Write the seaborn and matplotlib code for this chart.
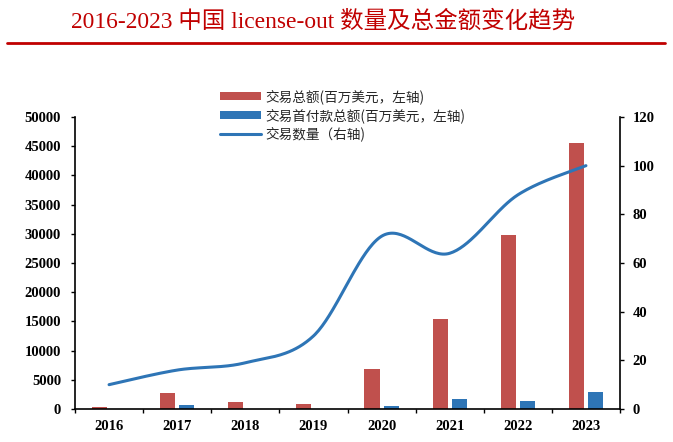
import numpy as np
import pandas as pd
import matplotlib
matplotlib.use("Agg")
import matplotlib.pyplot as plt
import seaborn as sns
from matplotlib.lines import Line2D
from matplotlib.patches import Patch
from matplotlib.font_manager import FontProperties

# ---- data ----
years = ["2016", "2017", "2018", "2019", "2020", "2021", "2022", "2023"]
total_amount = [300, 2740, 1200, 850, 6850, 15400, 29800, 45600]     # 百万美元
upfront_amount = [30, 630, 60, 40, 500, 1650, 1370, 2850]            # 百万美元
deal_count = [10, 16, 19, 30, 71, 64, 88, 100]                       # 右轴

label_total = "交易总额(百万美元，左轴)"
label_upfront = "交易首付款总额(百万美元，左轴)"
label_count = "交易数量（右轴)"
title = "2016-2023 中国 license-out 数量及总金额变化趋势"

red = "#C0504D"
blue = "#2E75B6"
title_red = "#C00000"

sns.set_theme(style="white")
plt.rcParams["font.family"] = ["Liberation Serif", "Noto Sans CJK SC", "DejaVu Sans"]

df = pd.DataFrame({
    "year": years * 2,
    "value": total_amount + upfront_amount,
    "series": [label_total] * len(years) + [label_upfront] * len(years),
})

fig = plt.figure(figsize=(6.73, 4.42), dpi=100)
ax = fig.add_axes([75 / 673, 1 - 409 / 442, 545 / 673, 292 / 442])

sns.barplot(data=df, x="year", y="value", hue="series", order=years,
            hue_order=[label_total, label_upfront], palette=[red, blue],
            width=0.56, gap=0.21, dodge=True, ax=ax, legend=False,
            saturation=1, edgecolor="none")

ax.set_xlim(-0.5, len(years) - 0.5)
ax.set_ylim(0, 50000)
ax.set_yticks(np.arange(0, 50001, 5000))
ax.set_xlabel("")
ax.set_ylabel("")

# right axis: smooth line (Catmull-Rom through the data points)
ax2 = ax.twinx()
x = np.arange(len(deal_count), dtype=float)
y = np.array(deal_count, dtype=float)
px = np.concatenate([[x[0]], x, [x[-1]]])
py = np.concatenate([[y[0]], y, [y[-1]]])
xs, ys = [], []
t = np.linspace(0, 1, 40)
for i in range(1, len(px) - 2):
    p0, p1, p2, p3 = (np.array([px[j], py[j]]) for j in (i - 1, i, i + 1, i + 2))
    c1 = p1 + (p2 - p0) / 6
    c2 = p2 - (p3 - p1) / 6
    b = ((1 - t) ** 3)[:, None] * p1 + (3 * (1 - t) ** 2 * t)[:, None] * c1 + \
        (3 * (1 - t) * t ** 2)[:, None] * c2 + (t ** 3)[:, None] * p2
    xs.extend(b[:, 0]); ys.extend(b[:, 1])
sns.lineplot(x=xs, y=ys, ax=ax2, color=blue, linewidth=2.2, sort=False,
             estimator=None)
ax2.set_ylim(0, 120)
ax2.set_yticks(np.arange(0, 121, 20))
ax2.set_xlim(-0.5, len(years) - 0.5)

for a in (ax, ax2):
    for s in a.spines.values():
        s.set_visible(False)
ax.spines["left"].set_visible(True)
ax.spines["bottom"].set_visible(True)
ax2.spines["right"].set_visible(True)
for s in (ax.spines["left"], ax.spines["bottom"], ax2.spines["right"]):
    s.set_color("black")
    s.set_linewidth(1.2)

ax.tick_params(axis="y", direction="out", length=3, width=1, color="black", left=True, pad=7)
ax2.tick_params(axis="y", direction="out", length=3, width=1, color="black", right=True, pad=6)
ax.set_xticks(np.arange(len(years)))
ax.set_xticklabels(years)
ax.tick_params(axis="x", which="major", length=0, pad=8)
ax.set_xticks(np.arange(-0.5, len(years), 1.0), minor=True)
ax.tick_params(axis="x", which="minor", direction="out", length=3, width=1, color="black", bottom=True)
for lab in ax.get_xticklabels() + ax.get_yticklabels() + ax2.get_yticklabels():
    lab.set_fontfamily("Liberation Serif")
    lab.set_fontweight("bold")
    lab.set_fontsize(10.5)
    lab.set_color("black")
ax.grid(False); ax2.grid(False)
ax.set_zorder(1); ax2.set_zorder(2); ax2.patch.set_visible(False)

# legend
handles = [Patch(facecolor=red, edgecolor="none", label=label_total),
           Patch(facecolor=blue, edgecolor="none", label=label_upfront),
           Line2D([0], [0], color=blue, lw=2.2, label=label_count)]
fig.legend(handles=handles, loc="upper left", bbox_to_anchor=(220 / 673, 1 - 89 / 442),
           frameon=False, prop=FontProperties(family=["Noto Sans CJK SC"], size=9.8),
           handlelength=3.0, handleheight=0.45, labelspacing=0.3, handletextpad=0.35,
           borderaxespad=0, borderpad=0)

# title and rule
fig.text(71 / 673, 1 - 21 / 442, title, color=title_red, fontsize=16.9, va="center", ha="left",
         family=["Liberation Serif", "Noto Sans CJK SC"])
fig.add_artist(Line2D([7 / 673, 665 / 673], [1 - 43 / 442, 1 - 43 / 442],
                      color=title_red, lw=2, transform=fig.transFigure))

fig.savefig("out.png", dpi=100)
